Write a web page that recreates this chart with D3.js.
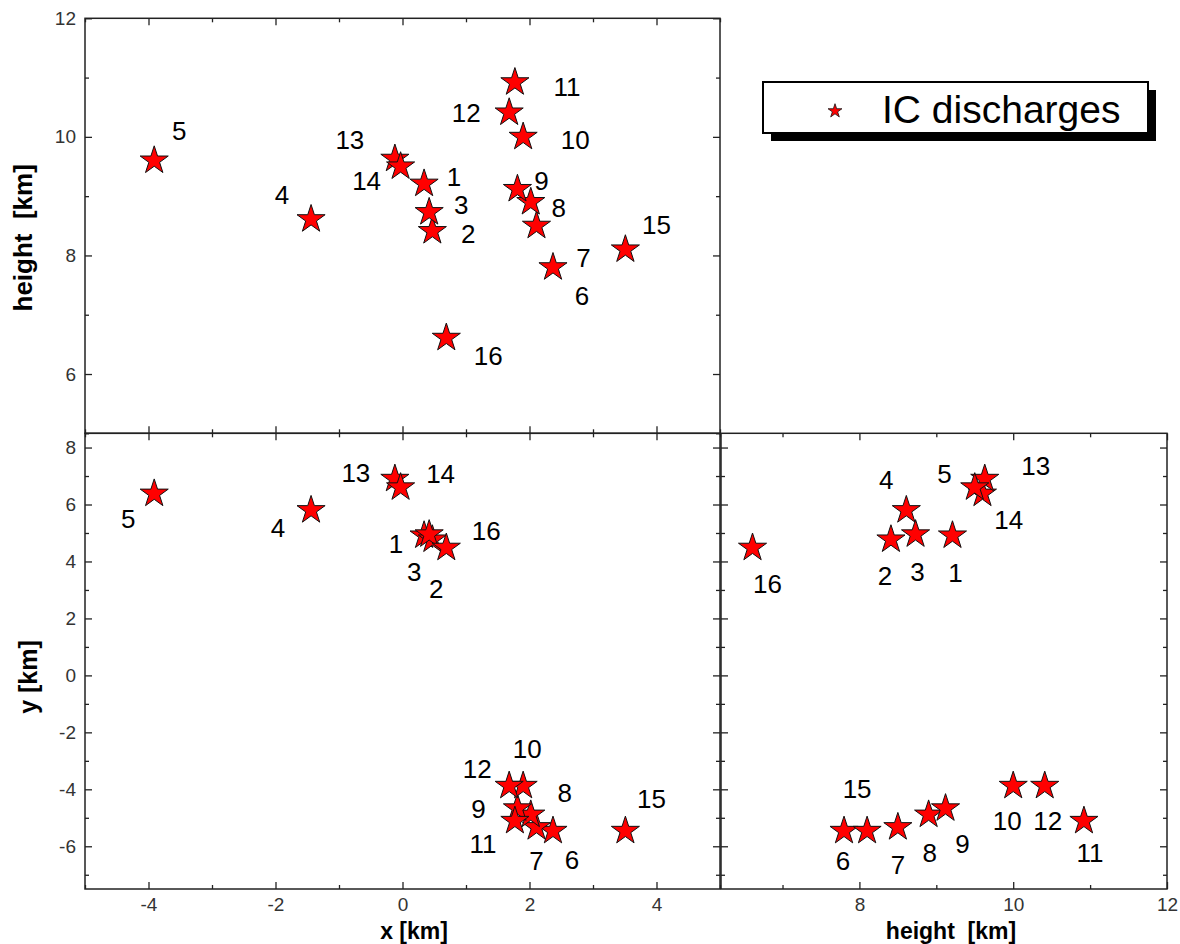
<!DOCTYPE html>
<html>
<head>
<meta charset="utf-8">
<script src="https://cdn.jsdelivr.net/npm/d3@7"></script>
<style>
  html, body { margin: 0; padding: 0; background: #fff; }
  svg { display: block; font-family: Arial, "Liberation Sans", sans-serif; }
  .tick text { fill: #333; font-size: 19px; }
  .tick line { stroke: #222; stroke-width: 1.3; }
  .domain { display: none; }
</style>
</head>
<body>
<svg id="chart" width="1180" height="944"></svg>
<script>
// IC discharge source positions, numbered 1..16
const discharges = [1, 2, 3, 4, 5, 6, 7, 8, 9, 10, 11, 12, 13, 14, 15, 16];
const xKm = [0.34, 0.47, 0.42, -1.44, -3.91, 2.37, 2.11, 2.02, 1.81, 1.90, 1.77, 1.68, -0.12, -0.03, 3.51, 0.69];
const yKm = [4.91, 4.77, 4.95, 5.80, 6.38, -5.46, -5.33, -4.89, -4.67, -3.88, -5.11, -3.88, 6.90, 6.60, -5.46, 4.48];
const heightKm = [9.21, 8.41, 8.73, 8.61, 9.60, 7.80, 8.50, 8.90, 9.12, 10.00, 10.92, 10.41, 9.63, 9.50, 8.10, 6.61];

// axis ticks
const xTicks = [-4, -2, 0, 2, 4];
const xMinor = [-5, -3, -1, 1, 3, 5];
const hTicksTop = [6, 8, 10, 12];
const hMinorTop = [5, 7, 9, 11];
const yTicks = [-6, -4, -2, 0, 2, 4, 6, 8];
const yMinor = [-7, -5, -3, -1, 1, 3, 5, 7];
const hTicksRight = [8, 10, 12];
const hMinorRight = [7, 9, 11];

// label placement (offset of each number from its star), per panel
const labelShiftXH = [[30,-7],[36,3],[32,-8],[-29,-25],[25,-30],[29,28],[47,32],[28,6],[24,-8],[52,3],[52,4],[-43,0],[-45,-19],[-34,14],[31,-25],[42,18]];
const labelShiftXY = [[-28,8],[4,49],[-15,37],[-33,17],[-26,25],[19,29],[0,33],[34,-22],[-39,0],[4,-37],[-32,23],[-32,-17],[-39,-6],[40,-14],[26,-32],[40,-17]];
const labelShiftHY = [[3,37],[-6,36],[2,37],[-20,-31],[-38,-20],[-1,30],[0,37],[1,38],[17,35],[-6,35],[6,32],[3,35],[51,-13],[34,32],[-10,-42],[15,36]];

const svg = d3.select("#chart");

const L = 85, M = 720, M2 = 721, R = 1167;
const T = 18.3, MID = 433.3, B = 889;

const xScale = d3.scaleLinear().domain([-5, 5]).range([L, M]);
const hScaleV = d3.scaleLinear().domain([5, 12]).range([MID, T]);
const yScaleL = d3.scaleLinear().domain([-7.5, 8.5]).range([B, MID]);
const hScaleH = d3.scaleLinear().domain([6.2, 12]).range([M2, R]);

const star = d3.symbol().type(d3.symbolStar).size(245);
const MAJOR = 7, MINOR = 4;
const plain = d => String(d);   // hyphen-minus, as on the original plot
const blank = () => "";

function drawAxes(p) {
  const g = svg.append("g");
  const w = p.x.range(), h = p.y.range();
  const x0 = w[0], x1 = w[1], yb = h[0], yt = h[1];
  // bottom
  g.append("g").attr("transform", `translate(0,${yb})`)
    .call(d3.axisBottom(p.x).tickValues(p.xMajor).tickSize(-MAJOR).tickPadding(9)
      .tickFormat(p.xLabels ? plain : blank));
  g.append("g").attr("transform", `translate(0,${yb})`)
    .call(d3.axisBottom(p.x).tickValues(p.xMinor).tickSize(-MINOR).tickFormat(blank));
  // top
  g.append("g").attr("transform", `translate(0,${yt})`)
    .call(d3.axisTop(p.x).tickValues(p.xMajor).tickSize(-MAJOR).tickFormat(blank));
  g.append("g").attr("transform", `translate(0,${yt})`)
    .call(d3.axisTop(p.x).tickValues(p.xMinor).tickSize(-MINOR).tickFormat(blank));
  // left
  g.append("g").attr("transform", `translate(${x0},0)`)
    .call(d3.axisLeft(p.y).tickValues(p.yMajor).tickSize(-MAJOR).tickPadding(9)
      .tickFormat(p.yLabels ? plain : blank));
  g.append("g").attr("transform", `translate(${x0},0)`)
    .call(d3.axisLeft(p.y).tickValues(p.yMinor).tickSize(-MINOR).tickFormat(blank));
  // right
  g.append("g").attr("transform", `translate(${x1},0)`)
    .call(d3.axisRight(p.y).tickValues(p.yMajor).tickSize(-MAJOR).tickFormat(blank));
  g.append("g").attr("transform", `translate(${x1},0)`)
    .call(d3.axisRight(p.y).tickValues(p.yMinor).tickSize(-MINOR).tickFormat(blank));
  // frame
  g.append("rect").attr("x", x0).attr("y", yt).attr("width", x1 - x0).attr("height", yb - yt)
    .attr("fill", "none").attr("stroke", "#222").attr("stroke-width", 1.5);
}

function drawPoints(xs, ys, sx, sy, shifts) {
  const g = svg.append("g");
  const pts = discharges.map((id, i) => ({ id, px: sx(xs[i]), py: sy(ys[i]), s: shifts[i] }));
  g.selectAll("path").data(pts).join("path")
    .attr("d", star)
    .attr("transform", d => `translate(${d.px},${d.py})`)
    .attr("fill", "#ff0000").attr("stroke", "#111").attr("stroke-width", 1);
  g.selectAll("text").data(pts).join("text")
    .attr("x", d => d.px + d.s[0]).attr("y", d => d.py + d.s[1])
    .attr("dy", "0.36em").attr("text-anchor", "middle")
    .attr("font-size", 26).attr("fill", "#000")
    .text(d => d.id);
}

// x – height (top left)
drawAxes({ x: xScale, y: hScaleV, xMajor: xTicks, xMinor: xMinor, yMajor: hTicksTop, yMinor: hMinorTop, xLabels: false, yLabels: true });
// x – y (bottom left)
drawAxes({ x: xScale, y: yScaleL, xMajor: xTicks, xMinor: xMinor, yMajor: yTicks, yMinor: yMinor, xLabels: true, yLabels: true });
// height – y (bottom right)
drawAxes({ x: hScaleH, y: yScaleL, xMajor: hTicksRight, xMinor: hMinorRight, yMajor: yTicks, yMinor: yMinor, xLabels: true, yLabels: false });

drawPoints(xKm, heightKm, xScale, hScaleV, labelShiftXH);
drawPoints(xKm, yKm, xScale, yScaleL, labelShiftXY);
drawPoints(heightKm, yKm, hScaleH, yScaleL, labelShiftHY);

// axis titles
svg.append("text").attr("transform", `translate(32,${(T + MID) / 2 + 12}) rotate(-90)`)
  .attr("text-anchor", "middle").attr("font-size", 26).attr("font-weight", "bold")
  .style("white-space", "pre").text("height  [km]");
svg.append("text").attr("transform", `translate(37,677) rotate(-90)`)
  .attr("text-anchor", "middle").attr("font-size", 25).attr("font-weight", "bold")
  .text("y [km]");
svg.append("text").attr("x", 414).attr("y", 939)
  .attr("text-anchor", "middle").attr("font-size", 23).attr("font-weight", "bold")
  .text("x [km]");
svg.append("text").attr("x", 951).attr("y", 939)
  .attr("text-anchor", "middle").attr("font-size", 23).attr("font-weight", "bold")
  .style("white-space", "pre").text("height  [km]");

// legend with drop shadow
const lg = svg.append("g");
lg.append("rect").attr("x", 771).attr("y", 90).attr("width", 385).attr("height", 51).attr("fill", "#000");
lg.append("rect").attr("x", 763).attr("y", 82).attr("width", 385).attr("height", 51)
  .attr("fill", "#fff").attr("stroke", "#000").attr("stroke-width", 2);
lg.append("path").attr("d", d3.symbol().type(d3.symbolStar).size(60)())
  .attr("transform", "translate(835,111)")
  .attr("fill", "#ff0000").attr("stroke", "#111").attr("stroke-width", 0.8);
lg.append("text").attr("x", 882).attr("y", 122.5).attr("font-size", 39).attr("fill", "#000")
  .text("IC discharges");
</script>
</body>
</html>
